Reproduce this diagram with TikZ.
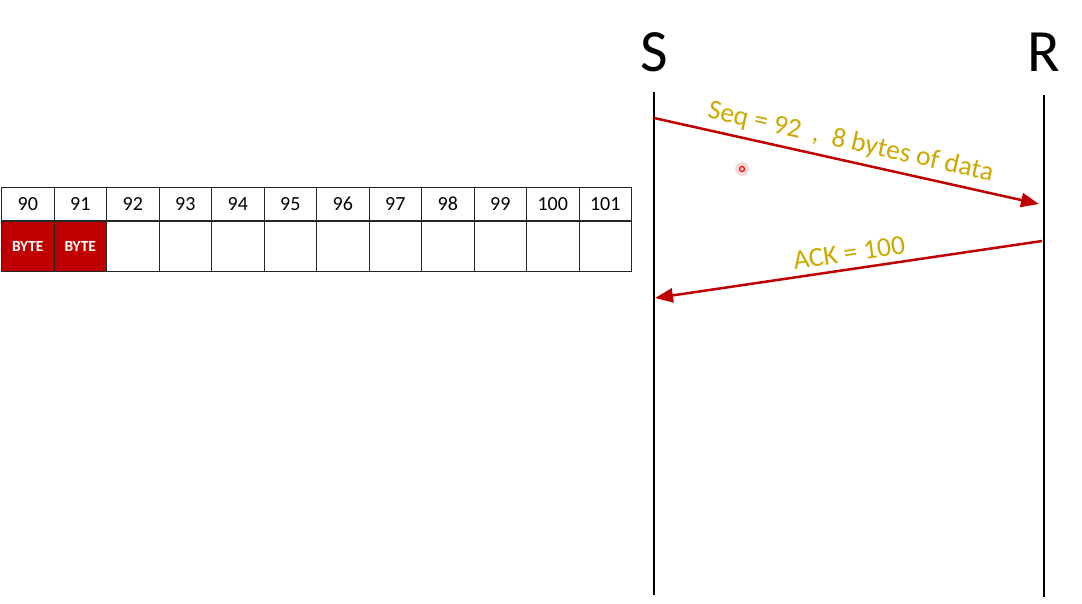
\documentclass[tikz,border=0pt]{standalone}
\usepackage{fontspec}
\setmainfont{Carlito}
\usepackage{xcolor}
\usepackage{tikz}
\usetikzlibrary{positioning,arrows.meta,calc}
\definecolor{bytered}{RGB}{192,0,0}
\definecolor{labelgold}{RGB}{204,168,0}
\tikzset{
  numcell/.style={draw=black!85, line width=1pt, anchor=north west, inner sep=0pt,
                  minimum width=52.5pt, minimum height=33pt, font=\fontsize{20}{22}\selectfont},
  datacell/.style={numcell, minimum height=50pt},
  bytecell/.style={datacell, fill=bytered, text=white, font=\fontsize{15.5}{17}\selectfont\bfseries},
  hostlabel/.style={font=\fontsize{60}{62}\selectfont, inner sep=0pt},
  lifeline/.style={line width=1.5pt, black},
  msgarr/.style={-{Triangle[length=18pt,width=14pt]}, bytered, line width=2.5pt},
  msglabel/.style={text=labelgold, font=\fontsize{27.5}{30}\selectfont, sloped, above=3pt}
}

\begin{document}
\begin{tikzpicture}[x=1pt,y=-1pt]
  \useasboundingbox (0,0) rectangle (1082,603);

  %% Left: byte buffer
  % top row: sequence numbers
  \foreach \n [count=\i from 0] in {90,...,101}{
    \node[numcell] (h\n) at (1+52.5*\i,187) {\n};
  }
  % bottom row: data cells
  \foreach \n in {92,...,101}{
    \node[datacell] (d\n) at (h\n.south west) {};
  }
  \node[bytecell] (d90) at (h90.south west) {BYTE};
  \node[bytecell] (d91) at (h91.south west) {BYTE};

  %% Right: sender / receiver timelines
  \node[hostlabel] (S) at (654,52) {S};
  \node[hostlabel] (R) at (1044,52) {R};
  \coordinate (Stop) at (654,92);
  \coordinate (Sbot) at (654,595);
  \coordinate (Rtop) at (1044,95);
  \coordinate (Rbot) at (1044,597);
  \draw[lifeline] (Stop) -- (Sbot);
  \draw[lifeline] (Rtop) -- (Rbot);

  % Seq segment
  \coordinate (seqS) at (654,118);
  \coordinate (seqR) at (1039,204);
  \draw[msgarr] (seqS) -- (seqR)
    node[msglabel, midway] {Seq = 92\ \ ,\ \ 8 bytes of data};

  % ACK segment
  \coordinate (ackR) at (1042,241);
  \coordinate (ackS) at (655,298);
  \draw[msgarr] (ackR) -- (ackS)
    node[msglabel, midway, xshift=3pt] {ACK = 100};

  % pointer dot
  \fill[red!25, opacity=0.6] (742,169) circle (7);
  \draw[red, line width=1.2pt] (742,169) circle (2.5);
\end{tikzpicture}
\end{document}
